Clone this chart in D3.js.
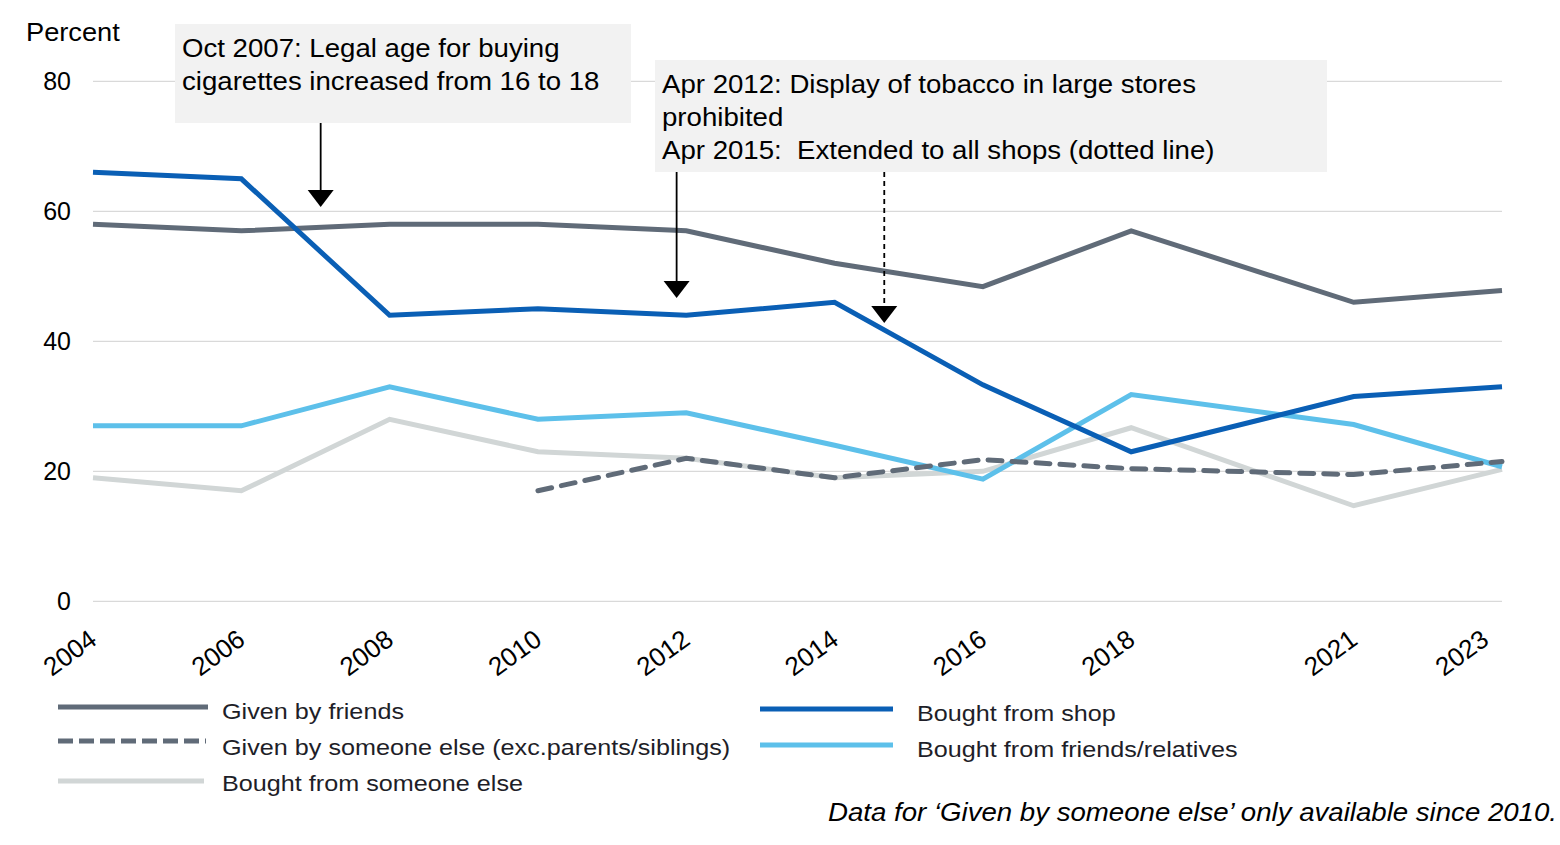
<!DOCTYPE html>
<html><head><meta charset="utf-8">
<script src="https://cdn.jsdelivr.net/npm/d3@7"></script>
<style>body{margin:0;background:#fff;} svg{display:block;font-family:"Liberation Sans",Arial,sans-serif;}</style>
</head><body>
<svg id="c" width="1560" height="845"></svg>
<script>
const years = [2004, 2006, 2008, 2010, 2012, 2014, 2016, 2018, 2021, 2023];
const givenByFriends = [58, 57, 58, 58, 57, 52, 48.4, 57, 46, 47.8];
const givenBySomeoneElse = [null, null, null, 17, 22, 19, 21.8, 20.4, 19.5, 21.5];
const boughtFromSomeoneElse = [19, 17, 28, 23, 22, 19, 20, 26.7, 14.7, 20.3];
const boughtFromShop = [66, 65, 44, 45, 44, 46, 33.3, 23, 31.5, 33];
const boughtFromFriendsRelatives = [27, 27, 33, 28, 29, 24, 18.8, 31.8, 27.2, 20.7];
const yTicks = [0, 20, 40, 60, 80];
const seriesNames = ["Given by friends", "Given by someone else (exc.parents/siblings)", "Bought from someone else", "Bought from shop", "Bought from friends/relatives"];

const series = [
  {name: seriesNames[2], values: boughtFromSomeoneElse, color: "#d1d6d6", dash: null},
  {name: seriesNames[4], values: boughtFromFriendsRelatives, color: "#5dc0ea", dash: null},
  {name: seriesNames[0], values: givenByFriends, color: "#606b78", dash: null},
  {name: seriesNames[1], values: givenBySomeoneElse, color: "#606b78", dash: "14,10"},
  {name: seriesNames[3], values: boughtFromShop, color: "#0a5fb5", dash: null}
];

const svg = d3.select("#c");
const x = d3.scaleLinear().domain([2004, 2023]).range([93, 1502]);
const y = d3.scaleLinear().domain([0, 80]).range([601.3, 81.3]);

// stretched text helper (reference font renders wider than Liberation Sans)
function stext(parent, px, py, str, size, sx, opts = {}) {
  const g = parent.append("g").attr("transform", `translate(${px},${py}) scale(${sx},1)`);
  const t = g.append("text").attr("x", 0).attr("y", 0).attr("font-size", size)
    .attr("fill", opts.fill || "#000").attr("text-anchor", opts.anchor || "start")
    .attr("font-style", opts.italic ? "italic" : null).attr("xml:space", "preserve").text(str);
  return t;
}

// gridlines
svg.append("g").selectAll("line").data(yTicks).join("line")
  .attr("x1", 93).attr("x2", 1502)
  .attr("y1", d => y(d)).attr("y2", d => y(d))
  .attr("stroke", "#d9d9d9").attr("stroke-width", 1.3);

// y axis labels
const yAxis = svg.append("g").attr("transform", "translate(71,0)")
  .call(d3.axisLeft(y).tickValues(yTicks).tickSize(0).tickPadding(0));
yAxis.select(".domain").remove();
yAxis.selectAll("text").attr("font-size", 25).attr("fill", "#000")
  .attr("font-family", "Liberation Sans, Arial, sans-serif");

stext(svg, 26, 41, "Percent", 25, 1.09);

// x axis labels
const xAxis = svg.append("g").attr("transform", "translate(0,601)")
  .call(d3.axisBottom(x).tickValues(years).tickFormat(d3.format("d")).tickSize(0).tickPadding(0));
xAxis.select(".domain").remove();
xAxis.selectAll("text")
  .attr("font-size", 26).attr("fill", "#000")
  .attr("font-family", "Liberation Sans, Arial, sans-serif")
  .attr("text-anchor", "end").attr("x", 0).attr("y", 0).attr("dy", 0)
  .attr("transform", d => `translate(${Math.min(5, 1490 - x(d))},42) rotate(-36)`);

// lines
const line = d3.line().defined(d => d[1] != null).x(d => x(d[0])).y(d => y(d[1]));
svg.append("g").selectAll("path").data(series).join("path")
  .attr("d", s => line(years.map((yr, i) => [yr, s.values[i]])))
  .attr("fill", "none").attr("stroke", s => s.color).attr("stroke-width", 5)
  .attr("stroke-dasharray", s => s.dash)
  .attr("stroke-linecap", s => s.dash ? "round" : "butt")
  .attr("stroke-linejoin", "miter");

// annotations
function box(x0, y0, w, h, lines, lh) {
  svg.append("rect").attr("x", x0).attr("y", y0).attr("width", w).attr("height", h).attr("fill", "#f2f2f2");
  lines.forEach((l, i) => stext(svg, x0 + 7, y0 + 33 + i * lh, l, 25, 1.105));
}
box(175, 24, 456, 99, ["Oct 2007: Legal age for buying", "cigarettes increased from 16 to 18"], 33);
box(655, 60, 672, 112, ["Apr 2012: Display of tobacco in large stores", "prohibited", "Apr 2015:  Extended to all shops (dotted line)"], 33);

function arrow(xp, y0, y1, dashed) {
  svg.append("line").attr("x1", xp).attr("x2", xp).attr("y1", y0).attr("y2", y1 - 16)
    .attr("stroke", "#000").attr("stroke-width", 1.8).attr("stroke-dasharray", dashed ? "5,4" : null);
  svg.append("path").attr("d", `M${xp - 13},${y1 - 17} L${xp + 13},${y1 - 17} L${xp},${y1} Z`).attr("fill", "#000");
}
arrow(x(2007.07), 123, 207, false);
arrow(x(2011.87), 172, 298, false);
arrow(x(2014.67), 172, 323, true);

// legend
const legend = [
  {s: series[2], lx: 58, lw: 150, ly: 707, tx: 222, ty: 719},
  {s: series[3], lx: 58, lw: 148, ly: 741, tx: 222, ty: 755},
  {s: series[0], lx: 58, lw: 146, ly: 781, tx: 222, ty: 791},
  {s: series[4], lx: 760, lw: 133, ly: 709, tx: 917, ty: 721},
  {s: series[1], lx: 760, lw: 133, ly: 745, tx: 917, ty: 757}
];
const lg = svg.append("g");
legend.forEach(d => {
  lg.append("line").attr("x1", d.lx).attr("x2", d.lx + d.lw).attr("y1", d.ly).attr("y2", d.ly)
    .attr("stroke", d.s.color).attr("stroke-width", 5).attr("stroke-dasharray", d.s.dash ? "15,6" : null);
  stext(lg, d.tx, d.ty, d.s.name, 22.5, 1.12, {fill: "#1e1e28"});
});

stext(svg, 1557, 821, "Data for \u2018Given by someone else\u2019 only available since 2010.", 25, 1.105, {anchor: "end", italic: true});
</script>
</body></html>
